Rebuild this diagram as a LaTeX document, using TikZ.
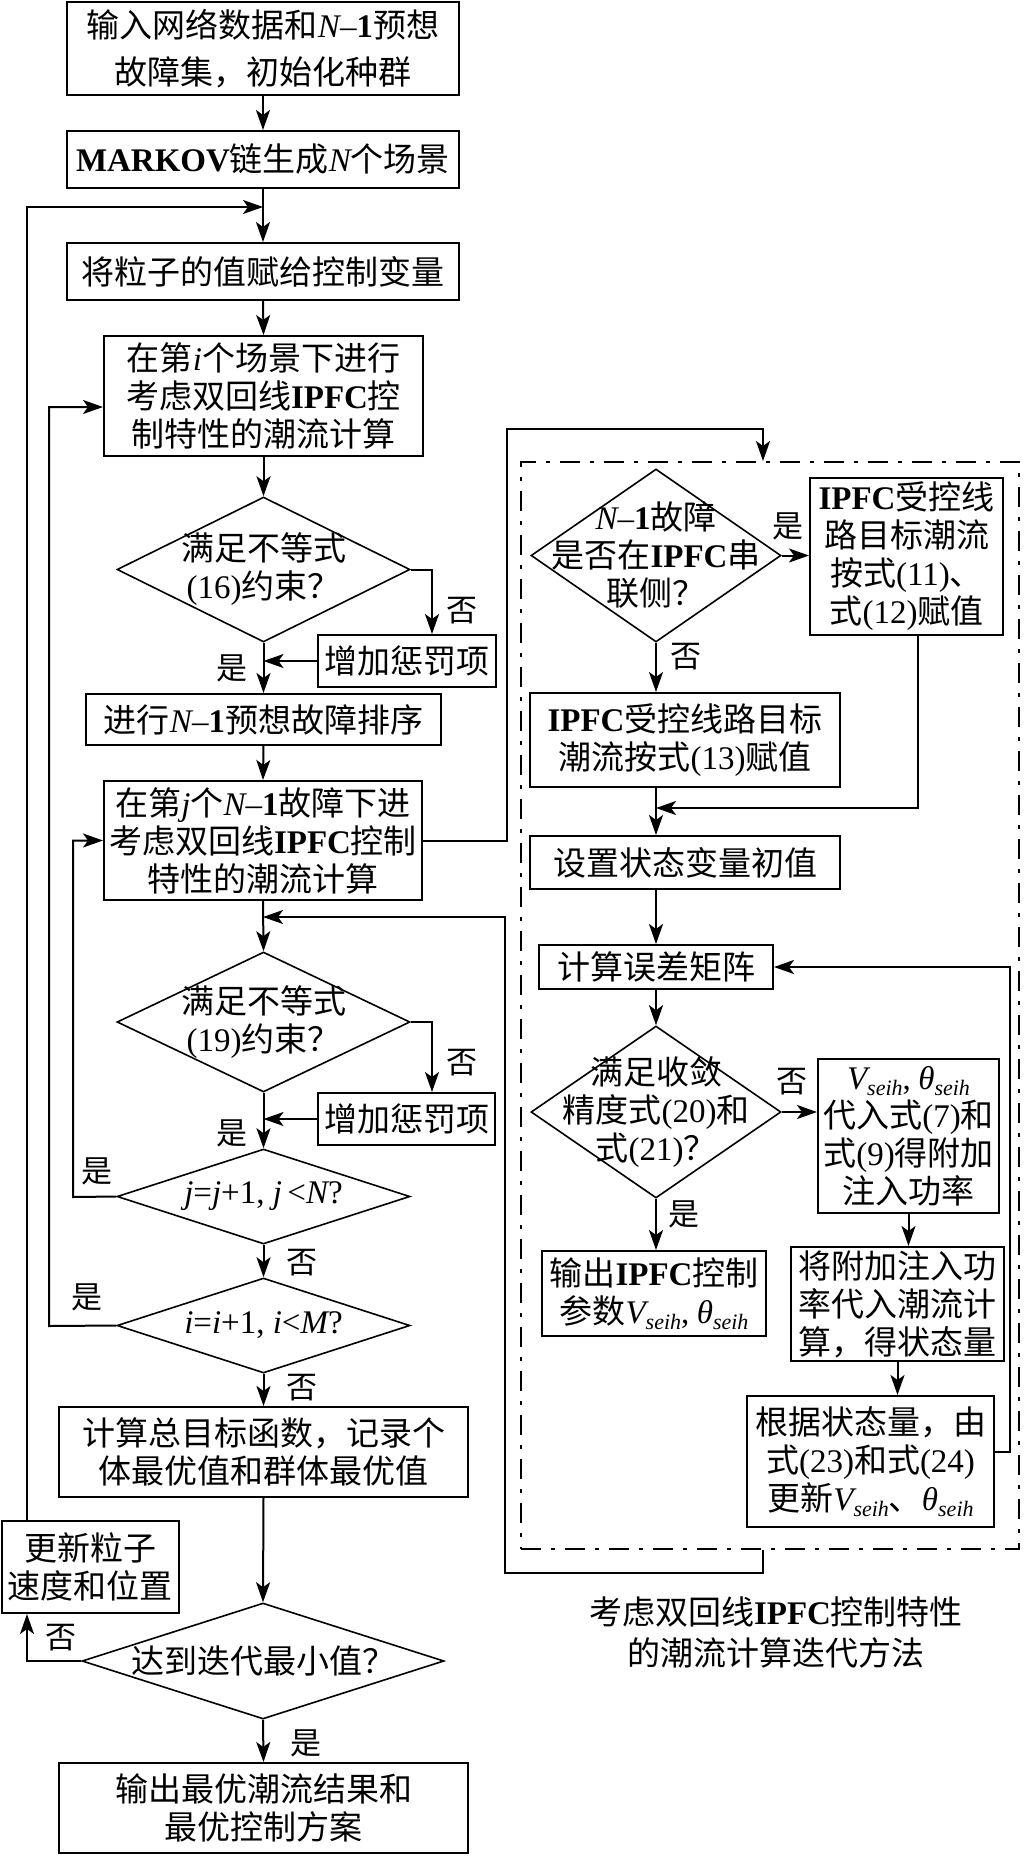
\documentclass[tikz,border=0pt]{standalone}
\usepackage{fontspec}
\setmainfont{Liberation Serif}
\newfontfamily\zh{Noto Sans CJK SC}
\usetikzlibrary{shapes.geometric,arrows.meta,calc}
\newcommand\la[1]{{\rmfamily #1}}
\newcommand\lb[1]{{\rmfamily\bfseries #1}}
\newcommand\li[1]{{\rmfamily\itshape #1}}
\newcommand\sbx[1]{\raisebox{-0.35ex}{\rmfamily\itshape\fontsize{22}{22}\selectfont #1}}
\newcommand\Nm{\li{N}\la{–}\lb{1}}
\begin{document}
\begin{tikzpicture}[x=1pt,y=-1pt,
  every node/.style={font=\zh\fontsize{33}{38}\selectfont, align=center, inner sep=0pt},
  box/.style={draw, line width=2pt, rectangle},
  dia/.style={draw, line width=1.6pt, diamond},
  arr/.style={line width=2pt, -{Stealth[length=20pt,width=14pt,inset=5pt]}},
  lab/.style={font=\zh\fontsize{31}{36}\selectfont},
  dashdot/.style={draw, line width=2pt, dash pattern=on 20pt off 10pt on 4pt off 10pt}]
\useasboundingbox (0,0) rectangle (1035,1856);

% ---------- left column ----------
\node[box, minimum width=392pt, minimum height=93pt, font=\zh\fontsize{33}{47}\selectfont] (b1) at (263,48.5) {输入网络数据和\Nm 预想\\故障集，初始化种群};
\node[box, minimum width=392pt, minimum height=57pt] (b2) at (263,159.5) {\lb{MARKOV}链生成\li{N}个场景};
\node[box, minimum width=392pt, minimum height=57pt] (b3) at (263,271.5) {将粒子的值赋给控制变量};
\node[box, minimum width=319pt, minimum height=120pt] (b4) at (263.5,396) {在第\li{i}个场景下进行\\考虑双回线\lb{IPFC}控\\制特性的潮流计算};

\node[dia, minimum width=293pt, minimum height=145pt] (d1) at (263.5,569.5) {};
\node (d1t) at (263.5,569.5) {满足不等式\\\la{(16)}约束？};
\node[box, minimum width=178pt, minimum height=52pt] (pen1) at (407,661) {增加惩罚项};
\node[box, minimum width=355pt, minimum height=51pt] (b5) at (263.5,719.5) {进行\Nm 预想故障排序};
\node[box, minimum width=318pt, minimum height=119pt] (b6) at (263,840.5) {在第\li{j}个\Nm 故障下进\\考虑双回线\lb{IPFC}控制\\特性的潮流计算};

\node[dia, minimum width=293pt, minimum height=140pt] (d2) at (263.5,1022) {};
\node (d2t) at (263.5,1022) {满足不等式\\\la{(19)}约束？};
\node[box, minimum width=177pt, minimum height=52pt] (pen2) at (406.5,1119) {增加惩罚项};

\node[dia, minimum width=293pt, minimum height=95pt] (d3) at (263.5,1196.5) {};
\node (d3t) at (263.5,1196.5) {{\rmfamily\itshape j\upshape=\itshape j\upshape+1, \itshape j\upshape\,<\itshape N\upshape?}};
\node[dia, minimum width=293pt, minimum height=95pt] (d4) at (263.5,1325.5) {};
\node (d4t) at (263.5,1325.5) {{\rmfamily\itshape i\upshape=\itshape i\upshape+1, \itshape i\upshape<\itshape M\upshape?}};

\node[box, minimum width=409pt, minimum height=90pt] (b7) at (263.5,1452) {计算总目标函数，记录个\\体最优值和群体最优值};
\node[box, minimum width=177pt, minimum height=92pt] (upd) at (90.5,1567) {更新粒子\\速度和位置};
\node[dia, minimum width=362pt, minimum height=116pt] (d5) at (263,1661) {};
\node (d5t) at (263,1661) {达到迭代最小值？};
\node[box, minimum width=409pt, minimum height=90pt] (bf) at (263.5,1808) {输出最优潮流结果和\\最优控制方案};

% ---------- right block ----------
\node[dashdot, minimum width=498pt, minimum height=1087pt] (sub) at (770,1005.5) {};
\node[dia, minimum width=250pt, minimum height=173pt] (dA) at (656,555.5) {};
\node (dAt) at (656,555.5) {\Nm 故障\\是否在\lb{IPFC}串\\联侧？};
\node[box, minimum width=193pt, minimum height=157pt] (bB) at (906.5,556.5) {\lb{IPFC}受控线\\路目标潮流\\按式\la{(11)}、\\式\la{(12)}赋值};
\node[box, minimum width=310pt, minimum height=94pt] (bC) at (685,740) {\lb{IPFC}受控线路目标\\潮流按式\la{(13)}赋值};
\node[box, minimum width=310pt, minimum height=53pt] (bD) at (685,862.5) {设置状态变量初值};
\node[box, minimum width=234pt, minimum height=44pt] (bE) at (656,967) {计算误差矩阵};
\node[dia, minimum width=250pt, minimum height=172pt] (dF) at (656,1112) {};
\node (dFt) at (656,1112) {满足收敛\\精度式\la{(20)}和\\式\la{(21)}？};
\node[box, minimum width=181pt, minimum height=154pt] (bG) at (908.5,1136) {\li{V}\sbx{seih}\la{,} \li{θ}\sbx{seih}\\代入式\la{(7)}和\\式\la{(9)}得附加\\注入功率};
\node[box, minimum width=224pt, minimum height=85pt] (bH) at (654,1293.5) {输出\lb{IPFC}控制\\参数\li{V}\sbx{seih}\la{,} \li{θ}\sbx{seih}};
\node[box, minimum width=213pt, minimum height=114pt] (bI) at (897.5,1304) {将附加注入功\\率代入潮流计\\算，得状态量};
\node[box, minimum width=247pt, minimum height=131pt] (bJ) at (870.5,1461.5) {根据状态量，由\\式\la{(23)}和式\la{(24)}\\更新\li{V}\sbx{seih}、\li{θ}\sbx{seih}};
\node[font=\zh\fontsize{33}{41}\selectfont] (cap) at (776,1632) {考虑双回线\lb{IPFC}控制特性\\的潮流计算迭代方法};

% ---------- coordinates ----------
\coordinate (m1) at (263,207);
\coordinate (m2) at (263,917);
\coordinate (c1) at (73,1197);
\coordinate (c2) at (49,1326);
\coordinate (c3) at (507,429);
\coordinate (c4) at (656,808);
\coordinate (c5) at (1010,1452);
\coordinate (c6) at (505,1573);

% ---------- connectors, left ----------
\draw[arr] (b1.south) -- (b2.north);
\draw[arr] (b2.south) -- (b3.north);
\draw[arr] ([xshift=-63.5pt]upd.north) |- (m1);
\draw[arr] (b3.south) -- (b4.north);
\draw[arr] (b4.south) -- (d1.north);
\draw[arr] (d1.south) -- (b5.north);
\draw[arr] (d1.east) -| ([xshift=25pt]pen1.north);
\draw[arr] (pen1.west) -- (pen1.west -| d1.south);
\draw[arr] (b5.south) -- (b6.north);
\draw[arr] (b6.south) -- (d2.north);
\draw[arr] (d2.south) -- (d3.north);
\draw[arr] (d2.east) -| ([xshift=25.5pt]pen2.north);
\draw[arr] (pen2.west) -- (pen2.west -| d2.south);
\draw[arr] (d3.south) -- (d4.north);
\draw[arr] (d3.west) -- (c1) |- (b6.west);
\draw[arr] (d4.west) -- (c2) |- ([yshift=-11pt]b4.west);
\draw[arr] (d4.south) -- (b7.north);
\draw[arr] (b7.south) -- (d5.north);
\draw[arr] (d5.south) -- (bf.north);
\draw[arr] (d5.west) -| ([xshift=-63.5pt]upd.south);

% ---------- connectors, right ----------
\draw[arr] (b6.east) -| (c3) -| ([xshift=-7pt]sub.north);
\draw[arr] (dA.east) -- (dA.east -| bB.west);
\draw[arr] (dA.south) -- (dA.south |- bC.north);
\draw[arr] ([xshift=11.5pt]bB.south) |- (c4);
\draw[arr] (bC.south -| dA.south) -- (bD.north -| dA.south);
\draw[arr] (bD.south -| bE.north) -- (bE.north);
\draw[arr] (bE.south) -- (dF.north);
\draw[arr] (dF.east) -- (dF.east -| bG.west);
\draw[arr] (dF.south) -- (dF.south |- bH.north);
\draw[arr] (bG.south) -- (bG.south |- bI.north);
\draw[arr] (bI.south) -- (bI.south |- bJ.north);
\draw[arr] (bJ.east |- c5) -- (c5) |- (bE.east);
\draw[arr] ([xshift=-7pt]sub.south) |- (c6) |- (m2);

% ---------- labels ----------
\node[lab] (l1) at (462,611) {否};
\node[lab] (l2) at (232,668) {是};
\node[lab] (l3) at (462,1063) {否};
\node[lab] (l4) at (232,1133) {是};
\node[lab] (l5) at (97,1171) {是};
\node[lab] (l6) at (302,1263) {否};
\node[lab] (l7) at (87,1297) {是};
\node[lab] (l8) at (302,1388) {否};
\node[lab] (l9) at (61,1638) {否};
\node[lab] (l10) at (306,1743) {是};
\node[lab] (l11) at (788,526) {是};
\node[lab] (l12) at (686,657) {否};
\node[lab] (l13) at (792,1082) {否};
\node[lab] (l14) at (684,1214) {是};
\end{tikzpicture}
\end{document}
